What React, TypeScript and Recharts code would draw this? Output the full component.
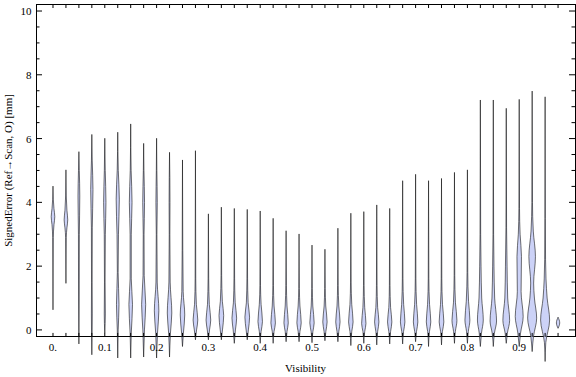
import { ComposedChart, Area, XAxis, YAxis, ReferenceArea, Label } from 'recharts';

// violin centres (Visibility)
const visibility = [
  0, 0.025, 0.05, 0.075, 0.1, 0.125, 0.15, 0.175, 0.2, 0.225,
  0.25, 0.275, 0.3, 0.325, 0.35, 0.375, 0.4, 0.425, 0.45, 0.475,
  0.5, 0.525, 0.55, 0.575, 0.6, 0.625, 0.65, 0.675, 0.7, 0.725,
  0.75, 0.775, 0.8, 0.825, 0.85, 0.875, 0.9, 0.925, 0.95, 0.975,
];
const xTickLabels = ['0.', '0.1', '0.2', '0.3', '0.4', '0.5', '0.6', '0.7', '0.8', '0.9'];
const yTicks = [0, 0.5, 1, 1.5, 2, 2.5, 3, 3.5, 4, 4.5, 5, 5.5, 6, 6.5, 7, 7.5, 8, 8.5, 9, 9.5, 10];

// each violin: [signed error (mm), relative density]
const profiles: [number, number][][] = [
  [[0.63, 0], [2.9, 0.07], [3.3, 0.22], [3.55, 0.4], [3.8, 0.22], [4.1, 0.07], [4.51, 0]],
  [[1.46, 0], [2.9, 0.07], [3.2, 0.22], [3.45, 0.4], [3.75, 0.22], [4.2, 0.07], [5.02, 0]],
  [[-0.44, 0], [1.0, 0.07], [3.0, 0.1], [4.2, 0.2], [5.0, 0.09], [5.59, 0]],
  [[-0.78, 0], [0.5, 0.1], [1.5, 0.07], [3.2, 0.1], [4.4, 0.25], [5.3, 0.09], [6.13, 0]],
  [[-0.1, 0], [0.5, 0.12], [1.5, 0.07], [3.0, 0.12], [4.0, 0.26], [5.0, 0.1], [6.01, 0]],
  [[-0.88, 0], [0.0, 0.1], [0.8, 0.28], [1.8, 0.09], [3.0, 0.16], [4.1, 0.35], [5.0, 0.12], [6.2, 0]],
  [[-0.88, 0], [-0.1, 0.13], [0.8, 0.4], [1.6, 0.13], [3.0, 0.13], [4.0, 0.3], [5.0, 0.1], [6.46, 0]],
  [[-0.85, 0], [0.0, 0.18], [0.8, 0.45], [1.7, 0.13], [3.0, 0.09], [4.0, 0.2], [5.0, 0.07], [5.85, 0]],
  [[-0.88, 0], [-0.1, 0.2], [0.6, 0.5], [1.5, 0.14], [3.0, 0.07], [4.0, 0.15], [5.0, 0.06], [6.01, 0]],
  [[-0.85, 0], [-0.1, 0.2], [0.53, 0.5], [1.5, 0.14], [3.0, 0.07], [4.0, 0.1], [5.57, 0]],
  [[-0.52, 0], [-0.1, 0.2], [0.47, 0.5], [1.2, 0.15], [2.5, 0.07], [5.33, 0]],
  [[-0.31, 0], [0.0, 0.25], [0.31, 0.52], [0.8, 0.2], [1.6, 0.07], [5.62, 0]],
  [[-0.31, 0], [0.0, 0.25], [0.31, 0.52], [0.8, 0.2], [1.6, 0.07], [3.64, 0]],
  [[-0.31, 0], [0.0, 0.25], [0.45, 0.52], [0.9, 0.22], [1.7, 0.07], [3.85, 0]],
  [[-0.42, 0], [0.0, 0.25], [0.37, 0.52], [0.85, 0.2], [1.6, 0.07], [3.81, 0]],
  [[-0.31, 0], [0.0, 0.25], [0.4, 0.52], [0.85, 0.2], [1.6, 0.07], [3.78, 0]],
  [[-0.42, 0], [-0.05, 0.2], [0.26, 0.5], [0.8, 0.2], [1.4, 0.07], [3.73, 0]],
  [[-0.42, 0], [-0.05, 0.2], [0.22, 0.5], [0.75, 0.2], [1.4, 0.07], [3.5, 0]],
  [[-0.37, 0], [-0.05, 0.2], [0.22, 0.48], [0.75, 0.2], [1.4, 0.07], [3.11, 0]],
  [[-0.37, 0], [-0.05, 0.2], [0.22, 0.48], [0.75, 0.2], [1.3, 0.07], [3.01, 0]],
  [[-0.4, 0], [-0.05, 0.2], [0.22, 0.48], [0.75, 0.18], [1.3, 0.07], [2.66, 0]],
  [[-0.34, 0], [-0.05, 0.2], [0.25, 0.48], [0.75, 0.18], [1.3, 0.07], [2.53, 0]],
  [[-0.37, 0], [-0.05, 0.2], [0.25, 0.48], [0.75, 0.2], [1.4, 0.07], [3.19, 0]],
  [[-0.49, 0], [-0.05, 0.2], [0.25, 0.5], [0.8, 0.2], [1.5, 0.07], [3.66, 0]],
  [[-0.42, 0], [-0.05, 0.2], [0.2, 0.48], [0.7, 0.2], [1.4, 0.07], [3.71, 0]],
  [[-0.47, 0], [-0.05, 0.2], [0.25, 0.48], [0.7, 0.2], [1.4, 0.07], [3.92, 0]],
  [[-0.44, 0], [-0.05, 0.2], [0.25, 0.48], [0.7, 0.2], [1.4, 0.07], [3.81, 0]],
  [[-0.44, 0], [-0.05, 0.2], [0.25, 0.5], [0.8, 0.22], [1.6, 0.07], [4.68, 0]],
  [[-0.37, 0], [-0.05, 0.2], [0.25, 0.5], [0.8, 0.22], [1.6, 0.07], [4.88, 0]],
  [[-0.52, 0], [-0.05, 0.2], [0.25, 0.5], [0.8, 0.22], [1.6, 0.07], [4.68, 0]],
  [[-0.47, 0], [-0.05, 0.2], [0.25, 0.52], [0.8, 0.22], [1.6, 0.07], [4.75, 0]],
  [[-0.42, 0], [-0.05, 0.2], [0.3, 0.55], [0.85, 0.22], [1.7, 0.07], [4.94, 0]],
  [[-0.42, 0], [-0.05, 0.2], [0.31, 0.55], [0.9, 0.25], [1.8, 0.08], [5.02, 0]],
  [[-0.52, 0], [-0.1, 0.25], [0.31, 0.65], [1.0, 0.3], [2.0, 0.15], [3.0, 0.07], [7.21, 0]],
  [[-0.52, 0], [-0.1, 0.25], [0.28, 0.72], [1.0, 0.3], [2.0, 0.15], [3.0, 0.07], [7.21, 0]],
  [[-0.42, 0], [-0.1, 0.25], [0.3, 0.75], [1.0, 0.32], [2.0, 0.18], [3.2, 0.07], [6.95, 0]],
  [[-0.52, 0], [-0.1, 0.3], [0.42, 0.88], [1.2, 0.42], [2.3, 0.5], [3.0, 0.2], [3.8, 0.07], [7.23, 0]],
  [[-0.68, 0], [-0.2, 0.3], [0.37, 1.0], [1.0, 0.5], [1.47, 0.33], [2.3, 0.73], [3.1, 0.25], [4.0, 0.07], [7.49, 0]],
  [[-0.99, 0], [-0.4, 0.15], [0.31, 1.0], [1.0, 0.45], [1.6, 0.2], [2.2, 0.1], [3.5, 0.05], [7.31, 0]],
  [[0.05, 0], [0.22, 0.37], [0.4, 0]],
];

const X_MIN = -0.0328;
const X_MAX = 1.0077;
const Y_MIN = -1.1;
const Y_MAX = 10.22;
const FRAME_Y = -0.22; // where the frame's bottom edge sits
const HALF_WIDTH = 0.0087; // visibility units per unit of density

const W = 576;
const H = 377;
const M_TOP = 4;
const M_RIGHT = 1;
const LEFT_W = 36;
const BOTTOM_AXIS_H = 12;
const PLOT_H = H - M_TOP - BOTTOM_AXIS_H;
const PLOT_W = W - M_RIGHT - LEFT_W;
const FRAME_GAP = (FRAME_Y - Y_MIN) * (PLOT_H / (Y_MAX - Y_MIN));

const FONT = '"Liberation Serif", "Times New Roman", serif';
const FILL = '#ccd2f7';
const EDGE = 'rgba(0,0,0,0.55)';

const violinRows = profiles.map((p, i) =>
  p.map(([y, d]) => ({
    y,
    r: [visibility[i] - d * HALF_WIDTH, visibility[i] + d * HALF_WIDTH],
  })),
);

// bottom tick + mirrored top tick
function BottomTick({ x, y, payload }: any) {
  const yb = y - FRAME_GAP;
  const yt = y - PLOT_H;
  const idx = Math.round(payload.value * 40);
  const label = idx % 4 === 0 ? xTickLabels[idx / 4] : null;
  return (
    <g>
      <line x1={x} x2={x} y1={yb} y2={yb - 4} stroke="#000" />
      <line x1={x} x2={x} y1={yt} y2={yt + 4} stroke="#000" />
      {label && (
        <text x={x} y={yb + 14} textAnchor="middle" fontSize={11} fontFamily={FONT} fill="#000">
          {label}
        </text>
      )}
    </g>
  );
}

// left tick + mirrored right tick
function LeftTick({ x, y, payload }: any) {
  const major = payload.value % 2 === 0;
  const len = major ? 6 : 3.5;
  const xr = x + PLOT_W;
  return (
    <g>
      <line x1={x} x2={x + len} y1={y} y2={y} stroke="#000" />
      <line x1={xr} x2={xr - len} y1={y} y2={y} stroke="#000" />
      {major && (
        <text x={x - 4.5} y={y + 4} textAnchor="end" fontSize={11} fontFamily={FONT} fill="#000">
          {payload.value}
        </text>
      )}
    </g>
  );
}

function XTitle({ viewBox }: any) {
  return (
    <text x={viewBox.x + viewBox.width / 2} y={viewBox.y + 7} textAnchor="middle" fontSize={11} fontFamily={FONT} fill="#000">
      Visibility
    </text>
  );
}

function YTitle({ viewBox }: any) {
  const cx = viewBox.x + 12;
  const cy = viewBox.y + (viewBox.height - FRAME_GAP) / 2;
  return (
    <text x={cx} y={cy} transform={`rotate(-90, ${cx}, ${cy})`} textAnchor="middle" fontSize={11} fontFamily={FONT} fill="#000">
      SignedError (Ref→Scan, O) [mm]
    </text>
  );
}

export default function App() {
  return (
    <div style={{ position: 'absolute', left: 0, top: 0, background: '#fff' }}>
      <ComposedChart width={W} height={H} layout="vertical" margin={{ top: M_TOP, right: M_RIGHT, bottom: 0, left: 0 }}>
        <XAxis
          type="number"
          domain={[X_MIN, X_MAX]}
          ticks={visibility}
          interval={0}
          height={BOTTOM_AXIS_H}
          axisLine={false}
          tickLine={false}
          tickSize={0}
          tickMargin={0}
          tick={(p: any) => <BottomTick {...p} />}
        >
          <Label content={(p: any) => <XTitle {...p} />} />
        </XAxis>
        <YAxis
          type="number"
          dataKey="y"
          reversed
          domain={[Y_MIN, Y_MAX]}
          ticks={yTicks}
          interval={0}
          width={LEFT_W}
          axisLine={false}
          tickLine={false}
          tickSize={0}
          tickMargin={0}
          tick={(p: any) => <LeftTick {...p} />}
        >
          <Label content={(p: any) => <YTitle {...p} />} />
        </YAxis>
        <ReferenceArea
          x1={X_MIN}
          x2={X_MAX}
          y1={FRAME_Y}
          y2={Y_MAX}
          ifOverflow="visible"
          fill="none"
          stroke="#000"
          strokeWidth={1}
          shapeRendering="crispEdges"
        />
        {violinRows.map((rows, i) => (
          <Area
            key={i}
            data={rows}
            dataKey="r"
            type="monotone"
            stroke={EDGE}
            strokeWidth={1}
            fill={FILL}
            fillOpacity={1}
            dot={false}
            activeDot={false}
            isAnimationActive={false}
          />
        ))}
      </ComposedChart>
    </div>
  );
}
